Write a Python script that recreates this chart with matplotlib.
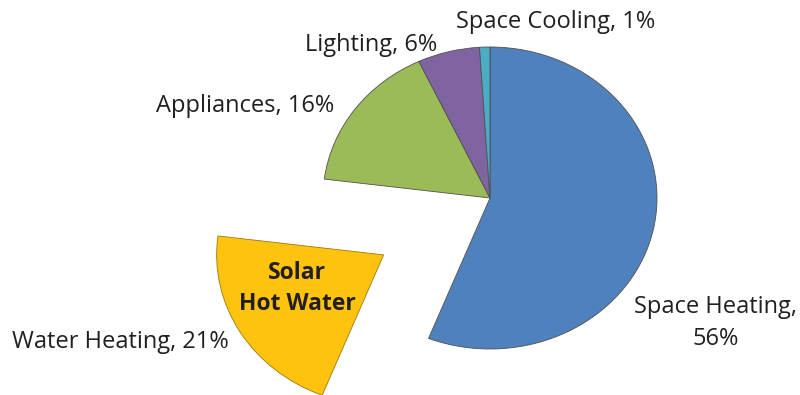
import matplotlib
matplotlib.use("Agg")
import matplotlib.pyplot as plt

# Household energy end uses (share of total, %)
categories = ["Space Heating", "Water Heating", "Appliances", "Lighting", "Space Cooling"]
shares = [56, 21, 16, 6, 1]
colors = ["#4F81BD", "#FDC30F", "#9BBB59", "#8064A2", "#4BACC6"]
explode = [0, 0.74, 0, 0, 0]

plt.rcParams["font.family"] = ["Open Sans", "DejaVu Sans"]
TEXT = "#231f20"

fig = plt.figure(figsize=(8.0, 3.95), dpi=100)
ax = fig.add_axes([0, 0, 1, 1])

wedges, _ = ax.pie(shares, colors=colors, explode=explode, startangle=90,
                   counterclock=False, radius=1.0,
                   wedgeprops=dict(edgecolor="#505050", linewidth=0.6))
wedges[1].set_edgecolor("#9a7a10")

# Pie is drawn slightly wider than tall
ax.set_aspect("auto")
ax.set_xlim(-490 / 167, 310 / 167)
ax.set_ylim(-197 / 151, 198 / 151)
ax.axis("off")


def px(x, y):
    return x / 800, 1 - y / 395


fs = 17
labels = [f"{c}, {v}%" for c, v in zip(categories, shares)]
fig.text(*px(556, 22), labels[4], ha="center", va="center", fontsize=fs, color=TEXT)
fig.text(*px(371, 45), labels[3], ha="center", va="center", fontsize=fs, color=TEXT)
fig.text(*px(245, 106), labels[2], ha="center", va="center", fontsize=fs, color=TEXT)
fig.text(*px(120, 342), labels[1], ha="center", va="center", fontsize=fs, color=TEXT)
fig.text(*px(716, 307), f"{categories[0]},", ha="center", va="center", fontsize=fs, color=TEXT)
fig.text(*px(716, 339), f"{shares[0]}%", ha="center", va="center", fontsize=fs, color=TEXT)

fig.text(*px(297, 273), "Solar", ha="center", va="center", fontsize=16.5,
         fontweight="bold", color=TEXT)
fig.text(*px(297, 304), "Hot Water", ha="center", va="center", fontsize=16.5,
         fontweight="bold", color=TEXT)

fig.savefig("out.png", dpi=100, facecolor="white")
